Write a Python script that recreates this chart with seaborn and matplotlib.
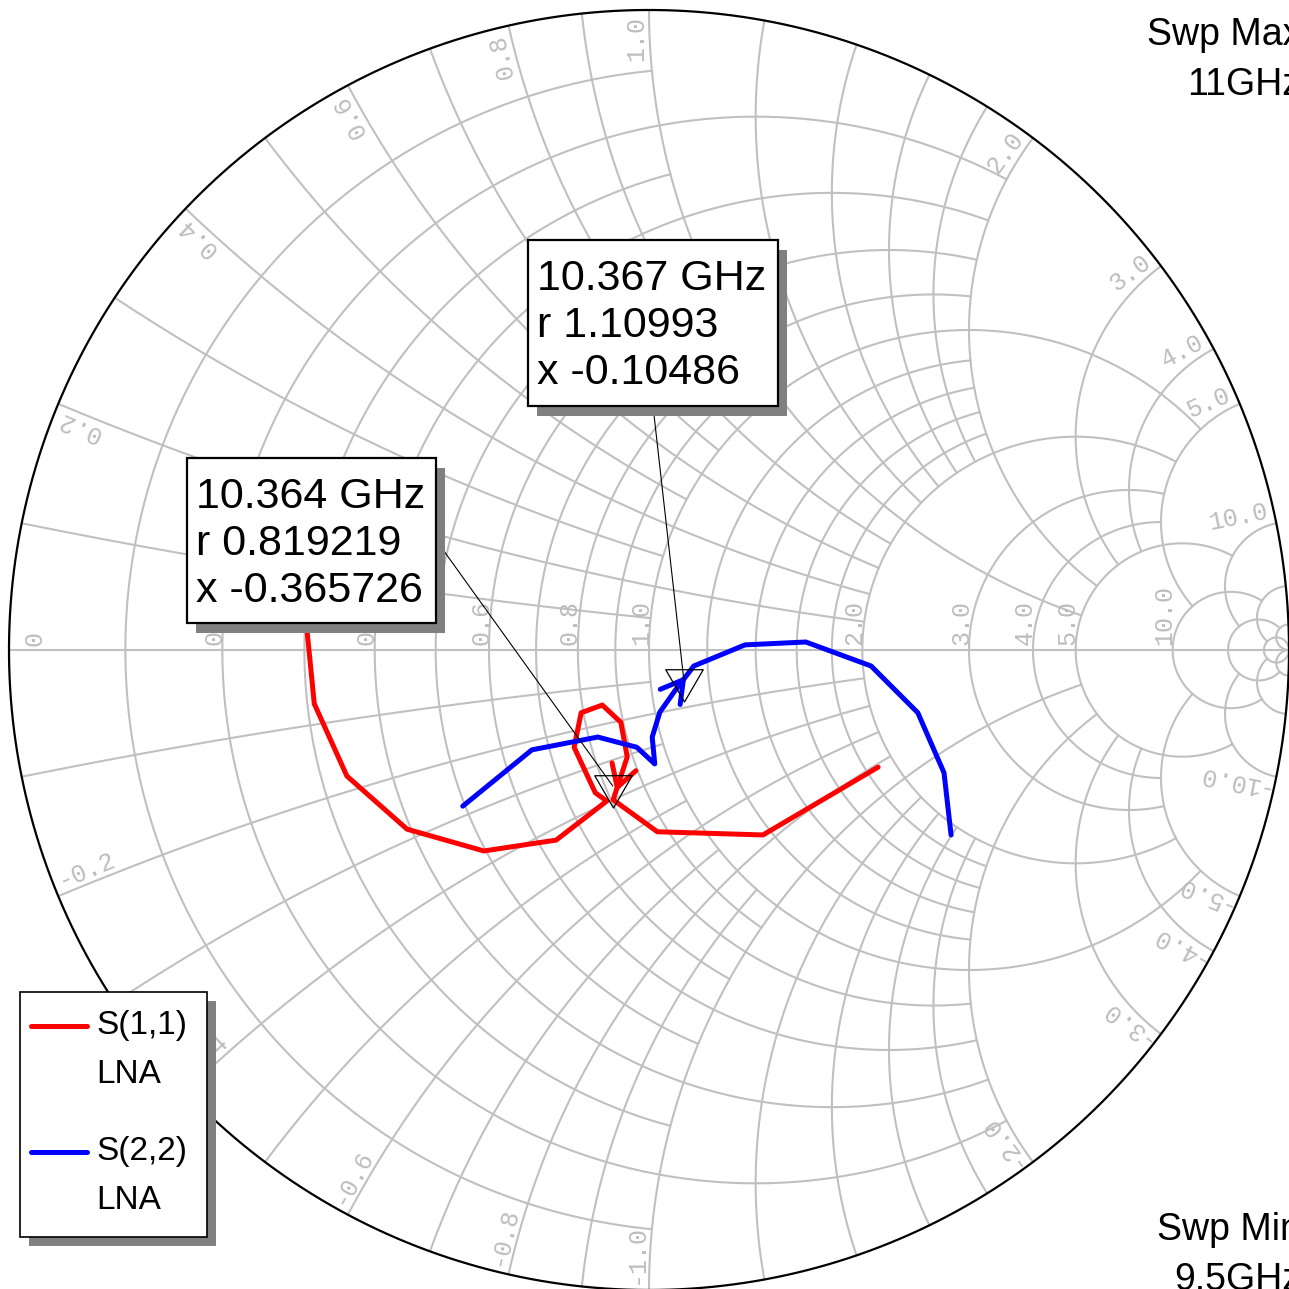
import numpy as np
import matplotlib
matplotlib.use("Agg")
import matplotlib.pyplot as plt
import seaborn as sns
from matplotlib.patches import Rectangle
from matplotlib.path import Path

s11_re = [-0.534, -0.523, -0.472, -0.378, -0.258, -0.145, -0.066, -0.084, -0.117,
          -0.106, -0.073, -0.044, -0.034, -0.056, 0.013, 0.178, 0.358]
s11_im = [0.027, -0.084, -0.197, -0.280, -0.314, -0.297, -0.236, -0.223, -0.152,
          -0.098, -0.086, -0.113, -0.167, -0.234, -0.284, -0.289, -0.183]
s22_re = [-0.291, -0.183, -0.080, -0.019, 0.009, 0.005, 0.017, 0.041, 0.070,
          0.150, 0.245, 0.347, 0.420, 0.461, 0.472]
s22_im = [-0.244, -0.156, -0.136, -0.152, -0.178, -0.136, -0.097, -0.063, -0.025,
          0.008, 0.0125, -0.025, -0.098, -0.192, -0.289]

trace_names = ["S(1,1)", "S(2,2)"]
trace_source = ["LNA", "LNA"]
trace_colors = ["#ff0000", "#0000ff"]

# marker readouts
marker_freq = ["10.364 GHz", "10.367 GHz"]
marker_r = [0.819219, 1.10993]
marker_x = [-0.365726, -0.10486]

sweep_max = ["Swp Max", "11GHz"]
sweep_min = ["Swp Min", "9.5GHz"]

# smith grid
grid_values = [0.1, 0.2, 0.3, 0.4, 0.5, 0.6, 0.7, 0.8, 0.9, 1.0,
               1.2, 1.4, 1.6, 1.8, 2.0, 3.0, 4.0, 5.0, 10.0, 20.0, 50.0]
label_values = [0.2, 0.4, 0.6, 0.8, 1.0, 2.0, 3.0, 4.0, 5.0, 10.0]

# pixel layout helpers (chart centre and radius in the 1289 px image)
CX, CY, RAD = 649, 650, 640
P = 1 / RAD


def px(x, y):
    return (x - CX) / RAD, (CY - y) / RAD


def gam(z):
    return (z - 1) / (z + 1)


def reach(v):
    # how far a grid circle / arc runs before it stops
    if v in (0.1, 0.3, 0.5, 0.7, 0.9):
        return 1.0
    if v < 2 and v != 1.0:
        return 2.0
    if v <= 4:
        return 5.0
    return {5.0: 10.0, 10.0: 20.0, 20.0: 50.0}.get(v, np.inf)


def nearest_on_trace(xs, ys, p):
    # closest point on the polyline and the direction of travel there
    pts = np.column_stack([xs, ys])
    best, d = None, 1e9
    for a, b in zip(pts[:-1], pts[1:]):
        ab = b - a
        t = np.clip(np.dot(p - a, ab) / np.dot(ab, ab), 0, 1)
        q = a + t * ab
        dist = np.linalg.norm(q - p)
        if dist < d:
            d, best = dist, (q, ab / np.linalg.norm(ab))
    return best


sns.set_theme(style="white")
plt.rcParams["font.family"] = ["Liberation Sans", "DejaVu Sans"]
plt.rcParams["text.color"] = "black"

fig = plt.figure(figsize=(12.89, 12.89), dpi=100)
ax = fig.add_axes([0, 0, 1, 1])
ax.set_xlim(-CX / RAD, (1289 - CX) / RAD)
ax.set_ylim((CY - 1289) / RAD, CY / RAD)
ax.axis("off")

GRID = "#c0c0c0"
for v in grid_values:
    lim = np.arctan(reach(v))
    t = np.tan(np.linspace(-lim, lim, 1500))
    g = gam(v + 1j * t)
    ax.plot(g.real, g.imag, color=GRID, lw=1.5, zorder=1)
    t = np.tan(np.linspace(0, lim, 1500))
    for s in (1, -1):
        g = gam(t + 1j * s * v)
        ax.plot(g.real, g.imag, color=GRID, lw=1.5, zorder=1)
ax.plot([-1, 1], [0, 0], color=GRID, lw=1.5, zorder=1)
th = np.linspace(0, 2 * np.pi, 1500)
ax.plot(np.cos(th), np.sin(th), color="black", lw=1.6, zorder=3)

# grid labels
LAB = dict(family="Liberation Mono", fontsize=18, color="#bdbdbd",
           rotation_mode="anchor", zorder=2)
for v in label_values:
    gx = (v - 1) / (v + 1)
    ax.text(gx - 1 * P, 5 * P, f"{v:.1f}", rotation=90, ha="left", va="baseline", **LAB)
    for s in (1, -1):
        a = np.angle(gam(1j * s * v))
        u = np.array([np.cos(a), np.sin(a)])
        if s > 0:
            n = np.array([-np.sin(a), np.cos(a)])
            rot, ha = np.degrees(a), "right"
        else:
            n = np.array([np.sin(a), -np.cos(a)])
            rot, ha = np.degrees(a) + 180, "left"
        pos = (1 - 6 * P) * u + 6 * P * n
        ax.text(pos[0], pos[1], f"{s * v:.1f}", rotation=rot, ha=ha, va="baseline", **LAB)
ax.text(-1 + 13 * P, 4 * P, "0", rotation=90, ha="left", va="top", **LAB)

# traces
traces = [(s11_re, s11_im), (s22_re, s22_im)]
for (xs, ys), col in zip(traces, trace_colors):
    sns.lineplot(x=xs, y=ys, sort=False, estimator=None, color=col, lw=3.6,
                 ax=ax, zorder=4, legend=False)

# markers, direction arrows, readout boxes
mk = gam(np.array(marker_r) + 1j * np.array(marker_x))
tri = Path([(-0.87, 0.5), (0.87, 0.5), (0, -1.0), (-0.87, 0.5)],
           [Path.MOVETO, Path.LINETO, Path.LINETO, Path.CLOSEPOLY])
ax.plot(mk.real, mk.imag, ls="none", marker=tri, ms=31, mfc="none", mec="black",
        mew=0.9, zorder=5)

boxes = [(187, 458, 436, 623), (528, 240, 778, 406)]
leads = [(436, 540), (653, 406)]
for i, ((xs, ys), col) in enumerate(zip(traces, trace_colors)):
    p = np.array([mk[i].real, mk[i].imag])
    tip, d = nearest_on_trace(xs, ys, p)
    wings = []
    for ang in (np.radians(30), -np.radians(30)):
        c, s_ = np.cos(ang), np.sin(ang)
        back = -d
        w = np.array([c * back[0] - s_ * back[1], s_ * back[0] + c * back[1]])
        wings.append(tip + 25 * P * w)
    ax.plot([wings[0][0], tip[0], wings[1][0]], [wings[0][1], tip[1], wings[1][1]],
            color=col, lw=3.6, zorder=4, solid_joinstyle="miter")

    x0, y0, x1, y1 = boxes[i]
    bl = px(x0, y1)
    ax.add_patch(Rectangle((bl[0] + 9 * P, bl[1] - 10 * P), (x1 - x0) * P, (y1 - y0) * P,
                           fc="#808080", ec="none", zorder=6))
    ax.add_patch(Rectangle(bl, (x1 - x0) * P, (y1 - y0) * P, fc="white", ec="black",
                           lw=1.6, zorder=6))
    lines = [marker_freq[i], f"r {marker_r[i]:g}", f"x {marker_x[i]:g}"]
    for k, txt in enumerate(lines):
        ax.text(*px(x0 + 9, y0 + 50 + 47 * k), txt, fontsize=31, ha="left",
                va="baseline", color="black", zorder=7)
    lx, ly = px(*leads[i])
    ax.plot([lx, p[0]], [ly, p[1]], color="black", lw=0.8, zorder=5)

# legend
ax.add_patch(Rectangle(px(29, 1246), 187 * P, 245 * P, fc="#808080", ec="none", zorder=6))
ax.add_patch(Rectangle(px(20, 1237), 187 * P, 245 * P, fc="white", ec="black",
                       lw=1.2, zorder=6))
for i, (nm, src, col) in enumerate(zip(trace_names, trace_source, trace_colors)):
    yl = 1026 + 126 * i
    (ax0, ay0), (ax1, ay1) = px(31, yl), px(87, yl)
    ax.plot([ax0, ax1], [ay0, ay1], color=col, lw=3.6, solid_capstyle="round", zorder=7)
    ax.text(*px(96, yl + 8), nm, fontsize=24, ha="left", va="baseline",
            color="black", zorder=7)
    ax.text(*px(96, yl + 57), src, fontsize=24, ha="left", va="baseline",
            color="black", zorder=7)

# sweep limits
for k, txt in enumerate(sweep_max):
    ax.text(*px(1301, 45 + 50 * k), txt, fontsize=27, ha="right", va="baseline",
            color="black")
for k, txt in enumerate(sweep_min):
    ax.text(*px(1301, 1240 + 50 * k), txt, fontsize=27, ha="right", va="baseline",
            color="black")

fig.savefig("out.png", dpi=100)
